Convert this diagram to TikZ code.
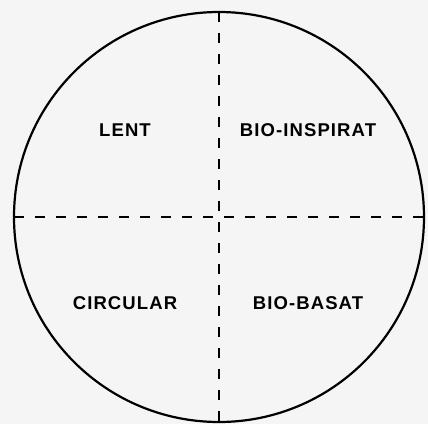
\documentclass[tikz,border=0pt]{standalone}
\usepackage{fontspec}
\newfontfamily\quadfont{Liberation Sans}[LetterSpace=6]
\usepackage{tikz}

\definecolor{paper}{HTML}{F5F5F5}

\begin{document}
\begin{tikzpicture}[
            x=1pt, y=1pt,
            rim/.style={circle, draw, line width=2.2pt, minimum size=410pt, inner sep=0pt, outer sep=0pt},
            divider/.style={line width=2.2pt, dash pattern=on 10pt off 11pt},
            quarter/.style={font=\quadfont\bfseries\fontsize{18.5}{18.5}\selectfont, anchor=base}
        ]

            \fill[paper] (-219,-207) rectangle (209,217);

            \node[rim] (disc) at (0,0) {};

            \node[quarter] (lent) at (-94,81) {LENT};
            \node[quarter] (bioinsp) at (89,81) {BIO-INSPIRAT};
            \node[quarter] (circular) at (-94,-92) {CIRCULAR};
            \node[quarter] (biobas) at (89,-92) {BIO-BASAT};

            \draw[divider] (disc.north) -- (disc.south);
            \draw[divider] (disc.west) -- (disc.east);

        \end{tikzpicture}
\end{document}
